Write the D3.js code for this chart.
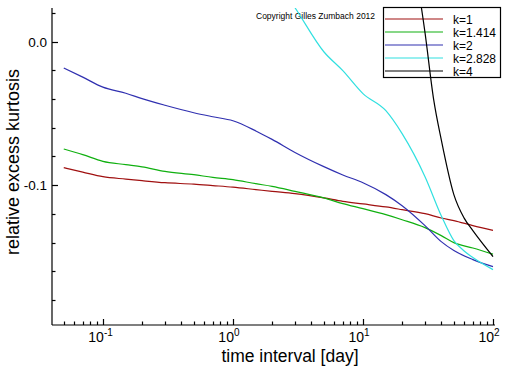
<!DOCTYPE html>
<html>
<head>
<meta charset="utf-8">
<script src="https://cdn.jsdelivr.net/npm/d3@7"></script>
<style>
body { margin: 0; background: #fff; }
text { font-family: "Liberation Sans", Arial, sans-serif; fill: #000; }
</style>
</head>
<body>
<div id="plot"></div>
<script>
"use strict";

// values
const tDays = [0.05, 0.07, 0.1, 0.15, 0.2, 0.3, 0.5, 0.7, 1, 1.5, 2, 3, 5, 7, 10, 15, 20, 30, 40, 50, 70, 100];
const kurtK1 = [-0.0878, -0.0909, -0.0941, -0.0958, -0.0969, -0.0983, -0.0993, -0.1003, -0.1014, -0.1031, -0.1043,
    -0.1059, -0.1089, -0.1113, -0.1131, -0.1152, -0.1171, -0.1199, -0.1229, -0.1247, -0.1282, -0.1315];
const kurtK1414 = [-0.0748, -0.0787, -0.0834, -0.0857, -0.0873, -0.0904, -0.0927, -0.0946, -0.0962, -0.0990, -0.1008,
    -0.1043, -0.1089, -0.1129, -0.1164, -0.1206, -0.1241, -0.1296, -0.1352, -0.1401, -0.1438, -0.1481];
const kurtK2 = [-0.0183, -0.0247, -0.0317, -0.0359, -0.0397, -0.0443, -0.0495, -0.0523, -0.0551, -0.0622, -0.0681,
    -0.0772, -0.0871, -0.0929, -0.0983, -0.1066, -0.1143, -0.1282, -0.1394, -0.1456, -0.1519, -0.1568];
const tDaysK2828 = [2, 3, 5, 7, 10, 15, 20, 30, 40, 50, 60, 70, 100];
const kurtK2828 = [0.0467, 0.0237, -0.0070, -0.0202, -0.0362, -0.0481, -0.0641, -0.0941, -0.1213, -0.1387, -0.1459, -0.1505, -0.1589];
const tDaysK4 = [20, 30, 35, 40, 50, 60, 70, 100];
const kurtK4 = [0.104, 0.0063, -0.0406, -0.0683, -0.1066, -0.1230, -0.1317, -0.1498];

const seriesNames = ["k=1", "k=1.414", "k=2", "k=2.828", "k=4"];
const seriesColors = ["#a01010", "#10b010", "#3030b0", "#30e0e0", "#000000"];
const xMajorTicks = [0.1, 1, 10, 100];
const xTickExponents = ["-1", "0", "1", "2"];
const yLabelTicks = [0.0, -0.1];
const yTickLabels = ["0.0", "-0.1"];

const msm = {
    width: 512,
    height: 366,
    left: 52,
    right: 495,
    top: 8,
    bottom: 325
}

let svg;

window.onload = function () {
    svg = d3.select("#plot")
        .append("svg")
        .attr("width", msm.width)
        .attr("height", msm.height);
    let scalers = getScalers();
    drawAxes(scalers);
    drawAxesLabels();
    drawLegend();
    plotData(scalers);
}

function getScalers() {
    let xScale = d3.scaleLog()
        .domain([0.0406, 103.6])
        .range([msm.left, msm.right]);
    let yScale = d3.scaleLinear()
        .domain([-0.1975, 0.0235])
        .range([msm.bottom, msm.top]);
    return { xScale: xScale, yScale: yScale };
}

function drawAxes(scalers) {
    let x = scalers.xScale, y = scalers.yScale;
    let g = svg.append("g").attr("stroke", "#000").attr("stroke-width", 1.2);

    g.append("line")
        .attr("x1", msm.left).attr("x2", msm.right)
        .attr("y1", msm.bottom).attr("y2", msm.bottom);
    g.append("line")
        .attr("x1", msm.left).attr("x2", msm.left)
        .attr("y1", msm.top).attr("y2", msm.bottom);

    // x ticks, drawn inside (upwards)
    let xTicks = x.ticks().filter(d => d >= x.domain()[0] && d <= x.domain()[1]);
    g.selectAll(".xtick")
        .data(xTicks)
        .enter()
        .append("line")
        .attr("x1", d => Math.round(x(d)) + 0.5)
        .attr("x2", d => Math.round(x(d)) + 0.5)
        .attr("y1", msm.bottom)
        .attr("y2", d => xMajorTicks.includes(d) ? msm.bottom - 6 : msm.bottom - 3.5);

    // y ticks every 0.02, drawn inside (rightwards)
    let yTicks = d3.range(-0.18, 0.021, 0.02).map(d => Math.round(d * 100) / 100);
    g.selectAll(".ytick")
        .data(yTicks)
        .enter()
        .append("line")
        .attr("y1", d => Math.round(y(d)) + 0.5)
        .attr("y2", d => Math.round(y(d)) + 0.5)
        .attr("x1", msm.left)
        .attr("x2", d => yLabelTicks.includes(d) ? msm.left + 6 : msm.left + 3.5);

    // x tick labels with exponents
    let xl = svg.append("g");
    xMajorTicks.forEach((d, i) => {
        xl.append("text")
            .attr("x", x(d) + 1)
            .attr("y", 342)
            .attr("text-anchor", "end")
            .style("font-size", "14px")
            .text("10");
        xl.append("text")
            .attr("x", x(d) + 1)
            .attr("y", 336)
            .style("font-size", "10px")
            .text(xTickExponents[i]);
    });

    svg.append("g")
        .selectAll("text")
        .data(yLabelTicks)
        .enter()
        .append("text")
        .attr("x", 47)
        .attr("y", d => y(d) + 5)
        .attr("text-anchor", "end")
        .style("font-size", "13.5px")
        .text((d, i) => yTickLabels[i]);
}

function drawAxesLabels() {
    svg.append("text")
        .attr("x", 290)
        .attr("y", 362)
        .attr("text-anchor", "middle")
        .style("font-size", "17.5px")
        .text("time interval [day]");

    svg.append("text")
        .attr("transform", "translate(19, 162) rotate(-90)")
        .attr("text-anchor", "middle")
        .style("font-size", "18px")
        .text("relative excess kurtosis");

    svg.append("text")
        .attr("x", 256)
        .attr("y", 19)
        .style("font-size", "8.5px")
        .text("Copyright Gilles Zumbach 2012");
}

function drawLegend() {
    let lg = svg.append("g");
    lg.append("rect")
        .attr("x", 383.5).attr("y", 7.5)
        .attr("width", 117).attr("height", 70)
        .attr("fill", "#fff")
        .attr("stroke", "#000")
        .attr("stroke-width", 1.2);
    let rowY = d3.scalePoint().domain(seriesNames).range([19, 71]);
    lg.selectAll("line")
        .data(seriesNames)
        .enter()
        .append("line")
        .attr("x1", 385).attr("x2", 443)
        .attr("y1", d => rowY(d)).attr("y2", d => rowY(d))
        .attr("stroke", (d, i) => seriesColors[i])
        .attr("stroke-width", 1.2);
    lg.selectAll("text")
        .data(seriesNames)
        .enter()
        .append("text")
        .attr("x", 453)
        .attr("y", d => rowY(d) + 4.5)
        .style("font-size", "12px")
        .text(d => d);
}

function plotData(scalers) {
    let x = scalers.xScale, y = scalers.yScale;
    svg.append("clipPath")
        .attr("id", "clip")
        .append("rect")
        .attr("x", msm.left).attr("y", msm.top)
        .attr("width", msm.right - msm.left)
        .attr("height", msm.bottom - msm.top);

    let series = [
        d3.zip(tDays, kurtK1),
        d3.zip(tDays, kurtK1414),
        d3.zip(tDays, kurtK2),
        d3.zip(tDaysK2828, kurtK2828),
        d3.zip(tDaysK4, kurtK4)
    ];
    let line = d3.line()
        .x(d => x(d[0]))
        .y(d => y(d[1]))
        .curve(d3.curveMonotoneX);

    svg.append("g")
        .attr("clip-path", "url(#clip)")
        .selectAll("path")
        .data(series)
        .enter()
        .append("path")
        .attr("d", line)
        .attr("fill", "none")
        .attr("stroke", (d, i) => seriesColors[i])
        .attr("stroke-width", 1.2);
}
</script>
</body>
</html>
